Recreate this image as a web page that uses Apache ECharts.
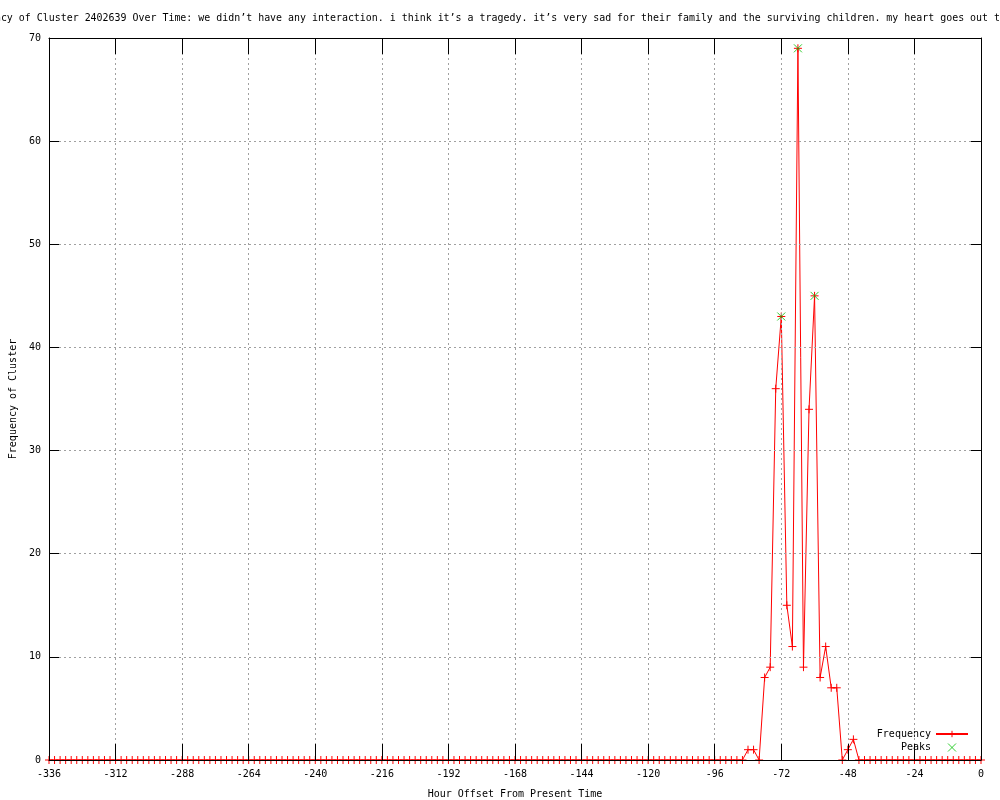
<!DOCTYPE html>
<html>
<head>
<meta charset="utf-8">
<script src="https://cdn.jsdelivr.net/npm/echarts@6/dist/echarts.min.js"></script>
<style>html,body{margin:0;padding:0;background:#fff}#c{width:1000px;height:800px}</style>
</head>
<body>
<div id="c"></div>
<script>
const titleText = "Frequency of Cluster 2402639 Over Time: we didn\u2019t have any interaction. i think it\u2019s a tragedy. it\u2019s very sad for their family and the surviving children. my heart goes out t";
const xName = "Hour Offset From Present Time";
const yName = "Frequency of Cluster";

const hours = [-336,-334,-332,-330,-328,-326,-324,-322,-320,-318,-316,-314,-312,-310,-308,-306,-304,-302,-300,-298,-296,-294,-292,-290,-288,-286,-284,-282,-280,-278,-276,-274,-272,-270,-268,-266,-264,-262,-260,-258,-256,-254,-252,-250,-248,-246,-244,-242,-240,-238,-236,-234,-232,-230,-228,-226,-224,-222,-220,-218,-216,-214,-212,-210,-208,-206,-204,-202,-200,-198,-196,-194,-192,-190,-188,-186,-184,-182,-180,-178,-176,-174,-172,-170,-168,-166,-164,-162,-160,-158,-156,-154,-152,-150,-148,-146,-144,-142,-140,-138,-136,-134,-132,-130,-128,-126,-124,-122,-120,-118,-116,-114,-112,-110,-108,-106,-104,-102,-100,-98,-96,-94,-92,-90,-88,-86,-84,-82,-80,-78,-76,-74,-72,-70,-68,-66,-64,-62,-60,-58,-56,-54,-52,-50,-48,-46,-44,-42,-40,-38,-36,-34,-32,-30,-28,-26,-24,-22,-20,-18,-16,-14,-12,-10,-8,-6,-4,-2,0];

const frequency = [
0,0,0,0,0,0,0,0,0,0,0,0,0,0,0,0,0,0,0,0,0,0,0,0,0,0,0,0,0,0,0,0,0,0,0,0,0,0,0,0,0,0,0,0,0,0,0,0,0,0,
0,0,0,0,0,0,0,0,0,0,0,0,0,0,0,0,0,0,0,0,0,0,0,0,0,0,0,0,0,0,0,0,0,0,0,0,0,0,0,0,0,0,0,0,0,0,0,0,0,0,
0,0,0,0,0,0,0,0,0,0,0,0,0,0,0,0,0,0,0,0,0,0,0,0,0,0,
1,1,0,8,9,36,43,15,11,69,9,34,45,8,11,7,7,0,1,2,
0,0,0,0,0,0,0,0,0,0,0,0,0,0,0,0,0,0,0,0,0,0,0];

const peakHours = [-72, -66, -60];
const peakValues = [43, 69, 45];

const xTicks = {min: -336, max: 0, interval: 24};
const yTicks = {min: 0, max: 70, interval: 10};

const font = "'DejaVu Sans Mono', monospace";
const plusPath = 'path://M0,4L8,4M4,0L4,8';
const crossPath = 'path://M0,0L8,8M8,0L0,8';

const chart = echarts.init(document.getElementById('c'), null, {renderer: 'canvas'});
chart.setOption({
  animation: false,
  backgroundColor: '#ffffff',
  title: {
    text: titleText, left: -41, top: 13, padding: 0,
    textStyle: {fontFamily: font, fontSize: 9.95, fontWeight: 'normal', color: '#000'}
  },
  legend: {
    orient: 'vertical', right: 31, top: 729, padding: 0, align: 'right',
    itemWidth: 32, itemHeight: 8, itemGap: 2,
    itemStyle: {borderWidth: 1},
    textStyle: {fontFamily: font, fontSize: 10, color: '#000'},
    data: ['Frequency', 'Peaks']
  },
  grid: {left: 49, right: 19, top: 38, bottom: 40, containLabel: false, outerBoundsMode: 'none'},
  xAxis: [{
    type: 'value', position: 'bottom', min: xTicks.min, max: xTicks.max, interval: xTicks.interval,
    z: 5,
    name: xName, nameLocation: 'middle', nameGap: 29,
    nameTextStyle: {fontFamily: font, fontSize: 10, color: '#000'},
    axisLine: {show: true, onZero: false, lineStyle: {color: '#000', width: 1}},
    axisTick: {show: true, inside: true, length: 16, lineStyle: {color: '#000'}},
    axisLabel: {fontFamily: font, fontSize: 10, color: '#000', margin: 9},
    splitLine: {show: false}
  }, {
    type: 'value', position: 'top', min: xTicks.min, max: xTicks.max, interval: xTicks.interval,
    z: 5,
    axisLine: {show: true, onZero: false, lineStyle: {color: '#000', width: 1}},
    axisTick: {show: true, inside: true, length: 16, lineStyle: {color: '#000'}},
    axisLabel: {show: false},
    splitLine: {show: true, lineStyle: {color: '#a0a0a0', type: [2, 3], width: 1}}
  }],
  yAxis: [{
    type: 'value', position: 'left', min: yTicks.min, max: yTicks.max, interval: yTicks.interval,
    z: 5,
    name: yName, nameLocation: 'middle', nameGap: 30, nameRotate: 90,
    nameTextStyle: {fontFamily: font, fontSize: 10, color: '#000'},
    axisLine: {show: true, onZero: false, lineStyle: {color: '#000', width: 1}},
    axisTick: {show: true, inside: true, length: 10, lineStyle: {color: '#000'}},
    axisLabel: {fontFamily: font, fontSize: 10, color: '#000', margin: 8},
    splitLine: {show: true, lineStyle: {color: '#a0a0a0', type: [2, 3], width: 1}}
  }, {
    type: 'value', position: 'right', min: yTicks.min, max: yTicks.max, interval: yTicks.interval,
    z: 5,
    axisLine: {show: true, onZero: false, lineStyle: {color: '#000', width: 1}},
    axisTick: {show: true, inside: true, length: 10, lineStyle: {color: '#000'}},
    axisLabel: {show: false},
    splitLine: {show: false}
  }],
  series: [{
    name: 'Frequency', type: 'line', xAxisIndex: 0, yAxisIndex: 0,
    data: hours.map((h, i) => [h, frequency[i]]),
    showAllSymbol: true, symbol: plusPath, symbolSize: 8,
    lineStyle: {color: '#ff0000', width: 1},
    itemStyle: {color: '#ff0000', borderColor: '#ff0000', borderWidth: 1},
    z: 2
  }, {
    name: 'Peaks', type: 'scatter', xAxisIndex: 0, yAxisIndex: 0,
    data: peakHours.map((h, i) => [h, peakValues[i]]),
    symbol: crossPath, symbolSize: 8,
    itemStyle: {color: 'none', borderColor: '#00c000', borderWidth: 1},
    z: 3
  }]
});
</script>
</body>
</html>
